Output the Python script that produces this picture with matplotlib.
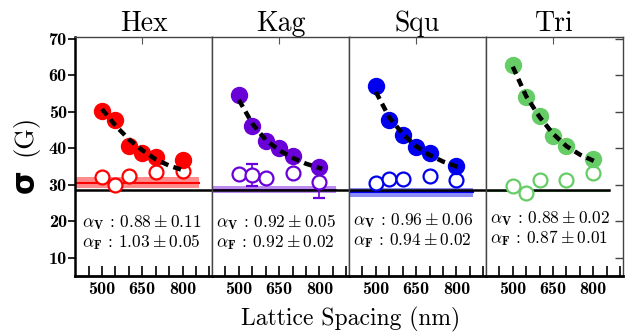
import matplotlib
matplotlib.use("Agg")
import matplotlib.pyplot as plt

plt.rcParams["mathtext.fontset"] = "cm"
plt.rcParams["axes.unicode_minus"] = False

PANELS = ["Hex", "Kag", "Squ", "Tri"]
COLORS = ["#ff0000", "#6a00d8", "#0000ee", "#66cc66"]

# filled markers
FILLED_X = [500, 550, 600, 650, 700, 800]
FILLED_Y = {
    "Hex": [50.3, 47.8, 40.7, 38.7, 37.6, 36.8],
    "Kag": [54.6, 46.2, 42.1, 40.0, 37.9, 34.8],
    "Squ": [57.2, 47.8, 43.7, 40.5, 38.8, 35.3],
    "Tri": [62.8, 54.2, 49.0, 43.4, 40.7, 37.0],
}

# open markers
OPEN_X = [500, 550, 600, 700, 800]
OPEN_Y = {
    "Hex": [32.1, 30.0, 32.4, 33.5, 33.7],
    "Kag": [32.9, 32.7, 32.0, 33.2, 30.9],
    "Squ": [30.6, 31.6, 31.6, 32.5, 31.2],
    "Tri": [29.7, 27.7, 31.2, 31.2, 33.2],
}
OPEN_ERR = {
    "Hex": [0, 0, 0, 0, 0],
    "Kag": [0, 3.0, 0, 0, 4.5],
    "Squ": [0, 0, 0, 0, 0],
    "Tri": [0, 0, 0, 0, 0],
}

# dashed fit curves
FIT_X = [500, 550, 600, 650, 700, 750, 810]
FIT_Y = {
    "Hex": [50.8, 46.3, 42.5, 39.5, 37.0, 35.3, 33.8],
    "Kag": [53.3, 46.8, 42.3, 39.5, 37.4, 35.8, 34.4],
    "Squ": [55.5, 48.5, 44.0, 40.6, 38.2, 36.4, 34.8],
    "Tri": [62.4, 54.3, 48.6, 44.0, 40.6, 38.3, 36.3],
}

# horizontal bands (low, centre, high)
BAND = {
    "Hex": (29.2, 30.6, 32.1),
    "Kag": (27.8, 28.7, 29.6),
    "Squ": (26.8, 28.0, 29.1),
    "Tri": (28.1, 28.3, 28.5),
}
BAND_END = 860
BASELINE = 28.5

ALPHA_V = {"Hex": ("0.88", "0.11"), "Kag": ("0.92", "0.05"),
           "Squ": ("0.96", "0.06"), "Tri": ("0.88", "0.02")}
ALPHA_F = {"Hex": ("1.03", "0.05"), "Kag": ("0.92", "0.02"),
           "Squ": ("0.94", "0.02"), "Tri": ("0.87", "0.01")}
TEXT_Y = {"Hex": (19.8, 14.3), "Kag": (19.8, 14.3),
          "Squ": (20.2, 14.7), "Tri": (20.8, 15.3)}

XTICKS = list(range(450, 901, 50))
XLABELED = [500, 650, 800]

fig, axes = plt.subplots(1, 4, figsize=(6.26, 3.35), dpi=100, sharey=True)
fig.subplots_adjust(left=0.12, right=0.995, top=0.889, bottom=0.176, wspace=0)

for i, (ax, name, col) in enumerate(zip(axes, PANELS, COLORS)):
    lo, mid, hi = BAND[name]
    ax.fill_between([400, BAND_END], lo, hi, color=col, alpha=0.45, lw=0, zorder=1)
    ax.plot([400, BAND_END], [mid, mid], color=col, lw=1.5, zorder=1.5)
    end = 910 if name != "Tri" else BAND_END
    ax.plot([400, end], [BASELINE, BASELINE], color="black", lw=1.8, zorder=1.6)

    ax.errorbar(OPEN_X, OPEN_Y[name], yerr=OPEN_ERR[name], fmt="o", ms=10,
                mfc="white", mec=col, mew=1.6, ecolor=col, elinewidth=1.2,
                capsize=4, zorder=3)
    ax.plot(FILLED_X, FILLED_Y[name], "o", ms=11.5, color=col, mec=col, zorder=4)
    ax.plot(FIT_X, FIT_Y[name], color="black", lw=3.2,
            linestyle=(0, (1.8, 1.2)), zorder=5)

    v, dv = ALPHA_V[name]
    f, df = ALPHA_F[name]
    ty1, ty2 = TEXT_Y[name]
    tx = 425 if i == 0 else 416
    ax.text(tx, ty1, r"$\alpha_\mathbf{V}$ : $\mathbf{%s}\pm\mathbf{%s}$" % (v, dv),
            fontsize=12.5, fontfamily="cmr10", va="center", ha="left")
    ax.text(tx, ty2, r"$\alpha_\mathbf{F}$ : $\mathbf{%s}\pm\mathbf{%s}$" % (f, df),
            fontsize=12.5, fontfamily="cmr10", va="center", ha="left")

    ax.set_xlim(400, 910)
    ax.set_ylim(5, 70.5)
    ax.set_xticks(XTICKS)
    ax.set_xticklabels([str(t) if t in XLABELED else "" for t in XTICKS],
                       fontfamily="cmb10", fontsize=13)
    ax.tick_params(axis="x", direction="in", length=7, width=1.2, pad=4)
    ax.set_title(name, fontfamily="cmr10", fontsize=20, pad=4)

    sec = ax.secondary_xaxis("top")
    sec.set_xticks([650])
    sec.set_xticklabels([""])
    sec.tick_params(direction="in", length=5, width=0.8, color="#555555")
    sec.spines["top"].set_visible(False)

    for side in ("left", "right", "top"):
        ax.spines[side].set_color("#444444")
        ax.spines[side].set_linewidth(1.0)
    ax.spines["bottom"].set_linewidth(2.0)

    if i == 0:
        ax.spines["left"].set_color("black")
        ax.spines["left"].set_linewidth(1.8)
        ax.set_yticks(range(10, 71, 10))
        ax.set_yticklabels([str(t) for t in range(10, 71, 10)],
                           fontfamily="cmb10", fontsize=13)
        ax.tick_params(axis="y", direction="out", length=5, width=1.2, pad=1)
    elif i == 3:
        ax.tick_params(axis="y", which="both", left=False, right=True,
                       direction="in", length=6, width=1.0, color="#444444")
    else:
        ax.tick_params(axis="y", left=False)

fig.text(0.04, 0.46, "\u03c3", rotation=90, fontsize=22, fontweight="bold",
         fontfamily="DejaVu Sans", ha="center", va="center")
fig.text(0.04, 0.595, "(G)", rotation=90, fontsize=19, fontfamily="cmr10",
         ha="center", va="center")
fig.text(0.56, 0.045, "Lattice Spacing (nm)", fontsize=17, fontfamily="cmr10",
         ha="center", va="center")

fig.savefig("out.png", dpi=100)
